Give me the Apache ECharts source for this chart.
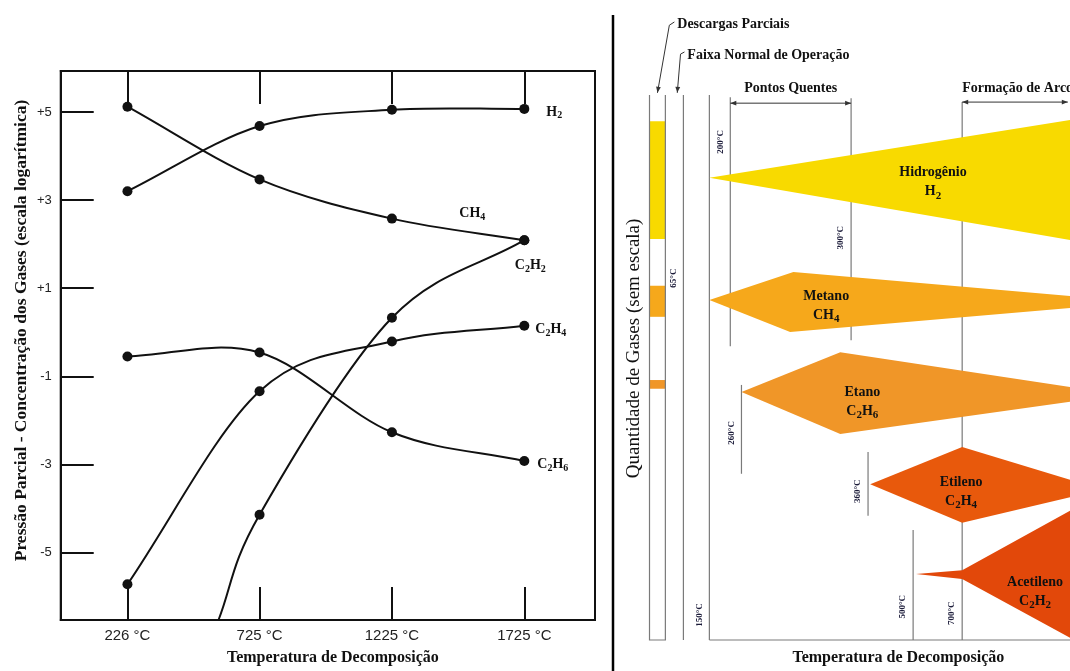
<!DOCTYPE html>
<html>
<head>
<meta charset="utf-8">
<script src="https://cdn.jsdelivr.net/npm/echarts@6/dist/echarts.min.js"></script>
<style>html,body{margin:0;background:#fff}#chart{width:1070px;height:671px}</style>
</head>
<body>
<div id="chart"></div>
<script>
(function () {
  'use strict';

  // ---- left panel: partial pressure (log) vs decomposition temperature ----
  const temps = [226, 725, 1225, 1725];
  const yTicks = [-5, -3, -1, 1, 3, 5];
  const h2 = [3.2, 4.68, 5.05, 5.07];
  const ch4 = [5.12, 3.47, 2.58, 2.09];
  const c2h2 = [-4.14, 0.33, 2.09];          // 725, 1225, 1725
  const c2h2Entry = [570, -6.53];            // where the curve leaves the bottom edge
  const c2h4 = [-5.72, -1.34, -0.21, 0.15];
  const c2h6 = [-0.55, -0.46, -2.27, -2.92];

  // ---- right panel: schematic, no scale (x = temperature position, y = quantity) ----
  const gasNames = ['Hidrogênio', 'Metano', 'Etano', 'Etileno', 'Acetileno'];
  const gasFormulas = ['H{s|2}', 'CH{s|4}', 'C{s|2}H{s|6}', 'C{s|2}H{s|4}', 'C{s|2}H{s|2}'];
  const h2Outline = [[0, 84.8], [100, 95.4], [100, 73.4]];
  const ch4Outline = [[0, 62.4], [23.3, 67.5], [100, 63.1], [100, 60.9], [22.4, 56.5]];
  const c2h6Outline = [[8.9, 45.5], [36.3, 52.8], [100, 46.4], [100, 43.7], [36.3, 37.8]];
  const c2h4Outline = [[44.6, 28.6], [70.1, 35.4], [100, 29.4], [100, 26.2], [70.1, 21.5]];
  const c2h2Outline = [[57.3, 12.1], [70.1, 12.8], [100, 23.7], [100, 0.4], [70.1, 11.2]];
  const markerLabels = ['65°C', '150°C', '200°C', '260°C', '300°C', '360°C', '500°C', '700°C'];
  const markerX = [-7.2, 0, 5.8, 8.9, 39.3, 44.0, 56.5, 70.1];
  const markerTop = [100, 100, 99.6, 46.8, 99.4, 34.5, 20.2, 98.7];
  const markerBottom = [0, 0, 53.9, 30.5, 55, 22.8, 0, 0];
  const dischargeBands = [[95.2, 73.6], [65, 59.3], [47.7, 46.1]];
  const hotSpotRange = [5.8, 39.3];
  const arcRange = [70.1, 99.4];

  const gasOutlines = [h2Outline, ch4Outline, c2h6Outline, c2h4Outline, c2h2Outline];
  const gasColors = ['#F8DA00', '#F6A81B', '#F09628', '#E8590C', '#E2480A'];
  const bandColors = ['#F8DA00', '#F6A81B', '#F09628'];
  // layout of the texts inside the schematic (data units)
  const gasLabelAt = [[62.0, 84.0], [32.4, 61.3], [42.4, 43.7], [69.8, 27.2], [90.3, 8.8]];
  const markerLabelY = [66.4, 4.6, 91.4, 38.0, 73.8, 27.3, 6.1, 4.9];

  const serif = "'Liberation Serif', 'Times New Roman', serif";
  const sans = "'Liberation Sans', Arial, sans-serif";
  function subRich(size) {
    return {
      s: { fontSize: Math.round(size * 0.72), fontFamily: serif, fontWeight: 'bold', color: '#111', fill: '#111', padding: [Math.round(size * 0.55), 0, 0, 0] }
    };
  }
  function pairs(xs, vals) { return xs.map(function (t, i) { return [t, vals[i]]; }); }

  const curves = [
    { name: 'H2', points: pairs(temps, h2), label: 'H{s|2}', pos: 'right', offset: [12, 3] },
    { name: 'CH4', points: pairs(temps, ch4), label: 'CH{s|4}', pos: 'top', offset: [-52, -8] },
    { name: 'C2H2', points: [c2h2Entry].concat(pairs(temps.slice(1), c2h2)), label: 'C{s|2}H{s|2}', pos: 'bottom', offset: [6, 6], open: true },
    { name: 'C2H4', points: pairs(temps, c2h4), label: 'C{s|2}H{s|4}', pos: 'right', offset: [1, 4] },
    { name: 'C2H6', points: pairs(temps, c2h6), label: 'C{s|2}H{s|6}', pos: 'right', offset: [3, 3] }
  ];

  // smooth curve through the measured points (Catmull-Rom in screen space)
  function renderCurve(params, api) {
    const pts = curves[params.dataIndex].points.map(function (p) { return api.coord(p); });
    const n = pts.length;
    const tan = pts.map(function (p, i) {
      const a = pts[Math.max(i - 1, 0)], b = pts[Math.min(i + 1, n - 1)];
      const k = (i === 0 || i === n - 1) ? 1 : 0.5;
      return [(b[0] - a[0]) * k, (b[1] - a[1]) * k];
    });
    let d = 'M' + pts[0][0] + ' ' + pts[0][1];
    for (let i = 0; i < n - 1; i++) {
      const c1 = [pts[i][0] + tan[i][0] / 3, pts[i][1] + tan[i][1] / 3];
      const c2 = [pts[i + 1][0] - tan[i + 1][0] / 3, pts[i + 1][1] - tan[i + 1][1] / 3];
      d += ' C' + c1.join(' ') + ' ' + c2.join(' ') + ' ' + pts[i + 1].join(' ');
    }
    return { type: 'path', shape: { pathData: d }, style: { stroke: '#111', lineWidth: 2, fill: null } };
  }

  function dots(c) {
    const data = c.points.map(function (p, i) {
      return (i === 0 && c.open) ? { value: p, symbol: 'none' } : { value: p };
    });
    data[data.length - 1].label = { show: true, formatter: c.label, position: c.pos, offset: c.offset };
    return {
      name: c.name, type: 'scatter', xAxisIndex: 0, yAxisIndex: 0, data: data,
      symbol: 'circle', symbolSize: 10, itemStyle: { color: '#111', opacity: 1 },
      label: { show: false, fontFamily: serif, fontWeight: 'bold', fontSize: 14, color: '#111', rich: subRich(14) },
      emphasis: { disabled: true }, silent: true, z: 4
    };
  }

  function renderGas(params, api) {
    const i = params.dataIndex;
    const pts = gasOutlines[i].map(function (p) { return api.coord(p); });
    const at = api.coord(gasLabelAt[i]);
    return {
      type: 'group', children: [
        { type: 'polygon', shape: { points: pts }, style: { fill: gasColors[i] } },
        { type: 'text', x: at[0], y: at[1], style: {
          text: gasNames[i] + '\n' + gasFormulas[i], align: 'center', verticalAlign: 'middle',
          fontFamily: serif, fontWeight: 'bold', fontSize: 14, lineHeight: 19, fill: '#111', rich: subRich(15) } }
      ]
    };
  }

  function renderMarker(params, api) {
    const i = params.dataIndex;
    const top = api.coord([markerX[i], markerTop[i]]);
    const bot = api.coord([markerX[i], markerBottom[i]]);
    const lab = api.coord([markerX[i], markerLabelY[i]]);
    return {
      type: 'group', children: [
        { type: 'line', shape: { x1: top[0], y1: top[1], x2: bot[0], y2: bot[1] }, style: { stroke: '#7a7a7a', lineWidth: 1.2 } },
        { type: 'text', x: lab[0] - 10, y: lab[1], rotation: Math.PI / 2, style: {
          text: markerLabels[i], align: 'center', verticalAlign: 'middle',
          fontFamily: serif, fontWeight: 'bold', fontSize: 9, fill: '#1c1c3a' } }
      ]
    };
  }

  function arrowHead(from, to, size) {
    const dx = to[0] - from[0], dy = to[1] - from[1];
    const len = Math.sqrt(dx * dx + dy * dy) || 1;
    const ux = dx / len, uy = dy / len;
    const bx = to[0] - ux * size, by = to[1] - uy * size;
    return { type: 'polygon', shape: { points: [to, [bx - uy * size * 0.4, by + ux * size * 0.4], [bx + uy * size * 0.4, by - ux * size * 0.4]] }, style: { fill: '#333' } };
  }

  function renderDecor(params, api) {
    const c = function (x, y) { return api.coord([x, y]); };
    const kids = [];
    const grey = { stroke: '#7a7a7a', lineWidth: 1.2, fill: null };
    // partial discharge column
    dischargeBands.forEach(function (b, i) {
      const p1 = c(-16.6, b[0]), p2 = c(-12.2, b[1]);
      kids.push({ type: 'rect', shape: { x: p1[0], y: p1[1], width: p2[0] - p1[0], height: p2[1] - p1[1] }, style: { fill: bandColors[i] } });
    });
    kids.push({ type: 'polyline', shape: { points: [c(-16.6, 100), c(-16.6, 0), c(-12.2, 0), c(-12.2, 100)] }, style: grey });
    // temperature axis
    kids.push({ type: 'line', shape: { x1: c(0, 0)[0], y1: c(0, 0)[1], x2: c(100, 0)[0], y2: c(100, 0)[1] }, style: grey });
    // range arrows
    [[hotSpotRange, 98.5, 'Pontos Quentes', 'center'], [arcRange, 98.7, 'Formação de Arco', 'left']].forEach(function (r) {
      const a = c(r[0][0], r[1]), b = c(r[0][1], r[1]);
      kids.push({ type: 'line', shape: { x1: a[0], y1: a[1], x2: b[0], y2: b[1] }, style: { stroke: '#333', lineWidth: 1 } });
      kids.push(arrowHead(b, a, 6), arrowHead(a, b, 6));
      const t = r[3] === 'center' ? c((r[0][0] + r[0][1]) / 2, 101.3) : c(r[0][0], 101.3);
      kids.push({ type: 'text', x: t[0], y: t[1], style: { text: r[2], align: r[3], verticalAlign: 'middle', fontFamily: serif, fontWeight: 'bold', fontSize: 14, fill: '#111' } });
    });
    // callouts
    [[[-9.7, 113.4], [-11.1, 112.8], [-14.4, 100.4], 'Descargas Parciais', [-8.9, 113.0]],
     [[-6.9, 107.9], [-8.0, 107.5], [-8.9, 100.4], 'Faixa Normal de Operação', [-6.1, 107.3]]].forEach(function (k) {
      const p0 = c(k[0][0], k[0][1]), p1 = c(k[1][0], k[1][1]), p2 = c(k[2][0], k[2][1]);
      kids.push({ type: 'polyline', shape: { points: [p0, p1, p2] }, style: { stroke: '#333', lineWidth: 1, fill: null } });
      kids.push(arrowHead(p1, p2, 6));
      const t = c(k[4][0], k[4][1]);
      kids.push({ type: 'text', x: t[0], y: t[1], style: { text: k[3], align: 'left', verticalAlign: 'middle', fontFamily: serif, fontWeight: 'bold', fontSize: 14, fill: '#111' } });
    });
    // panel divider and titles
    const d1 = c(-27, 114.7), d2 = c(-27, -6);
    kids.push({ type: 'line', shape: { x1: d1[0] + 1, y1: d1[1], x2: d2[0] + 1, y2: d2[1] }, style: { stroke: '#000', lineWidth: 2.5 } });
    const yt = c(-21, 53.5);
    kids.push({ type: 'text', x: yt[0], y: yt[1], rotation: Math.PI / 2, style: { text: 'Quantidade de Gases (sem escala)', align: 'center', verticalAlign: 'middle', fontFamily: serif, fontSize: 19, fill: '#111' } });
    const xt = c(52.4, -3.3);
    kids.push({ type: 'text', x: xt[0], y: xt[1], style: { text: 'Temperatura de Decomposição', align: 'center', verticalAlign: 'middle', fontFamily: serif, fontWeight: 'bold', fontSize: 16, fill: '#111' } });
    return { type: 'group', children: kids };
  }

  const chart = echarts.init(document.getElementById('chart'), null, { renderer: 'canvas' });
  const tickLine = { show: true, inside: true, length: 33, lineStyle: { color: '#111', width: 2 } };
  const frameLine = { show: true, onZero: false, lineStyle: { color: '#111', width: 2 } };
  chart.setOption({
    animation: false,
    grid: [
      { left: 59, top: 71, right: 475, bottom: 48, show: true, borderColor: '#111', borderWidth: 2, backgroundColor: '#fff' },
      { left: 612, top: 0, right: 0, bottom: 31 }
    ],
    xAxis: [
      { type: 'value', gridIndex: 0, min: -26, max: 1992, position: 'bottom',
        axisLine: frameLine,
        axisTick: Object.assign({ customValues: temps }, tickLine),
        axisLabel: { customValues: temps, formatter: function (v) { return v + ' °C'; }, fontFamily: sans, fontSize: 15, color: '#222', margin: 8 },
        splitLine: { show: false },
        name: 'Temperatura de Decomposição', nameLocation: 'middle', nameGap: 30,
        nameTextStyle: { fontFamily: serif, fontWeight: 'bold', fontSize: 16, color: '#111', padding: [0, 0, 0, 10] } },
      { type: 'value', gridIndex: 0, min: -26, max: 1992, position: 'top',
        axisLine: frameLine,
        axisTick: Object.assign({ customValues: temps }, tickLine),
        axisLabel: { show: false }, splitLine: { show: false } },
      { type: 'value', gridIndex: 1, min: -27, max: 100, show: false }
    ],
    yAxis: [
      { type: 'value', gridIndex: 0, min: -6.53, max: 5.93, position: 'left',
        axisLine: frameLine,
        axisTick: Object.assign({ customValues: yTicks }, tickLine),
        axisLabel: { customValues: yTicks, formatter: function (v) { return v > 0 ? '+' + v : String(v); }, fontFamily: sans, fontSize: 13, color: '#222', margin: 9 },
        splitLine: { show: false },
        name: 'Pressão Parcial - Concentração dos Gases (escala logarítmica)', nameLocation: 'middle', nameGap: 30,
        nameTextStyle: { fontFamily: serif, fontWeight: 'bold', fontSize: 17.5, color: '#111', padding: [0, 0, 0, 30] } },
      { type: 'value', gridIndex: 1, min: 0, max: 117.43, show: false }
    ],
    series: [
      { type: 'custom', name: 'curves', xAxisIndex: 0, yAxisIndex: 0, renderItem: renderCurve, data: curves.map(function (c, i) { return [i]; }), silent: true, z: 3 }
    ].concat(curves.map(dots)).concat([
      { type: 'custom', name: 'gases', xAxisIndex: 2, yAxisIndex: 1, renderItem: renderGas, data: gasNames.map(function (n, i) { return [i]; }), silent: true, z: 2 },
      { type: 'custom', name: 'markers', xAxisIndex: 2, yAxisIndex: 1, renderItem: renderMarker, data: markerLabels.map(function (n, i) { return [i]; }), silent: true, z: 1 },
      { type: 'custom', name: 'decor', xAxisIndex: 2, yAxisIndex: 1, renderItem: renderDecor, data: [[0]], silent: true, z: 3 }
    ])
  });
  window.addEventListener('resize', function () { chart.resize(); });
})();
</script>
</body>
</html>
